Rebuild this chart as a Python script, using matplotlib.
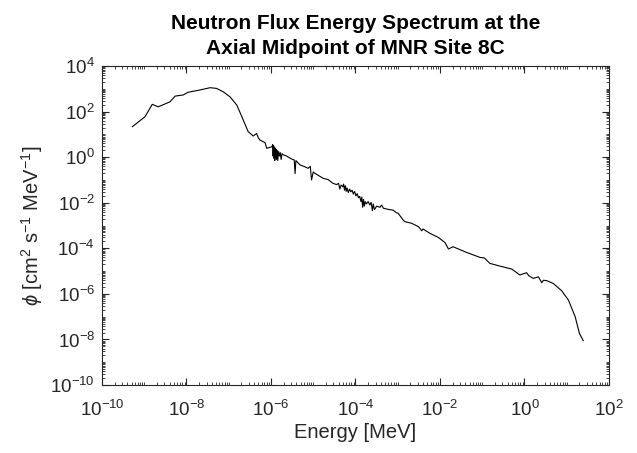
import numpy as np
import matplotlib
matplotlib.use('Agg')
import matplotlib.pyplot as plt
from matplotlib.ticker import LogLocator, NullFormatter

# log10 of energy [MeV] and flux
log_energy = [
    -9.28, -8.98, -8.81, -8.67, -8.39, -8.27, -8.08, -7.96, -7.68, -7.44,
    -7.29, -7.13, -6.97, -6.81, -6.69, -6.54, -6.42, -6.34, -6.30, -6.26,
    -6.14, -6.10, -6.03,
    -5.98, -5.96, -5.95, -5.94, -5.93, -5.92, -5.91, -5.90, -5.89, -5.88,
    -5.87, -5.85, -5.84, -5.82, -5.80, -5.78, -5.76, -5.74, -5.70, -5.63,
    -5.51, -5.45, -5.43, -5.41, -5.31, -5.20, -5.12, -5.07, -5.04, -5.00,
    -4.96, -4.86, -4.76, -4.65, -4.53,
    -4.45, -4.40, -4.37, -4.34, -4.30, -4.28, -4.26, -4.24, -4.22, -4.20,
    -4.17, -4.14, -4.11, -4.08, -4.05, -4.02, -3.99, -3.96, -3.93, -3.90,
    -3.87, -3.85, -3.83, -3.81, -3.79, -3.77, -3.74, -3.70, -3.66, -3.63,
    -3.60, -3.58, -3.55, -3.50, -3.42, -3.38, -3.34, -3.20, -3.11, -3.03,
    -2.99, -2.87, -2.83, -2.67, -2.51, -2.43, -2.40, -2.24, -2.04, -1.88,
    -1.80, -1.69, -1.37, -1.09, -1.05, -0.95, -0.82, -0.58, -0.30, -0.11,
    -0.05, 0.05, 0.10, 0.21, 0.33, 0.37, 0.41, 0.45, 0.53, 0.68,
    0.88, 1.04, 1.20, 1.30, 1.39,
]
log_flux = [
    1.34, 1.78, 2.32, 2.21, 2.43, 2.68, 2.73, 2.85, 2.95, 3.05,
    3.02, 2.87, 2.65, 2.29, 1.78, 1.12, 0.93, 1.04, 0.85, 0.75,
    0.64, 0.39, 0.43,
    0.45, 0.55, 0.05, 0.50, -0.05, 0.45, -0.15, 0.40, 0.00, 0.35,
    -0.10, 0.30, -0.15, 0.25, 0.05, 0.20, -0.10, 0.15, 0.10, 0.05,
    -0.08, -0.12, -0.72, -0.15, -0.34, -0.42, -0.49, -0.40, -1.00, -0.65,
    -0.71, -0.82, -0.93, -0.98, -1.15,
    -1.20, -1.15, -1.40, -1.22, -1.30, -1.18, -1.45, -1.25, -1.50, -1.35,
    -1.55, -1.40, -1.52, -1.45, -1.62, -1.50, -1.70, -1.60, -1.78, -1.72,
    -1.95, -1.75, -2.20, -1.85, -2.15, -1.95, -2.05, -1.95, -2.10, -1.98,
    -2.35, -2.05, -2.30, -2.15, -2.20, -2.10, -2.24, -2.30, -2.32, -2.44,
    -2.46, -2.76, -2.83, -2.90, -3.05, -3.23, -3.15, -3.34, -3.52, -3.75,
    -4.03, -3.93, -4.18, -4.37, -4.40, -4.42, -4.66, -4.78, -4.91, -5.17,
    -5.13, -5.07, -5.20, -5.32, -5.25, -5.38, -5.51, -5.40, -5.42, -5.54,
    -5.86, -6.27, -7.00, -7.73, -8.05,
]
x_ticks = [1e-10, 1e-8, 1e-6, 1e-4, 1e-2, 1e0, 1e2]
y_ticks = [1e-10, 1e-8, 1e-6, 1e-4, 1e-2, 1e0, 1e2, 1e4]

plt.rcParams['font.family'] = ['Liberation Sans', 'DejaVu Sans']
plt.rcParams['mathtext.fontset'] = 'custom'
plt.rcParams['mathtext.rm'] = 'Liberation Sans'
plt.rcParams['mathtext.it'] = 'Liberation Sans:italic'
plt.rcParams['axes.unicode_minus'] = False

energy = 10.0 ** np.array(log_energy)
flux = 10.0 ** np.array(log_flux)

fig = plt.figure(figsize=(6.37, 4.53), dpi=100)
ax = fig.add_axes([0.1601, 0.150, 0.7959, 0.7042])
ax.plot(energy, flux, color='black', linewidth=0.8)
ax.set_xscale('log')
ax.set_yscale('log')
ax.set_xlim(1e-10, 1e2)
ax.set_ylim(1e-10, 1e4)
ax.set_xticks(x_ticks)
ax.set_yticks(y_ticks)
ax.xaxis.set_minor_locator(LogLocator(base=10, subs=np.arange(1, 10), numticks=200))
ax.yaxis.set_minor_locator(LogLocator(base=10, subs=np.arange(1, 10), numticks=200))
ax.xaxis.set_minor_formatter(NullFormatter())
ax.yaxis.set_minor_formatter(NullFormatter())

dark = '#262626'
for s in ax.spines.values():
    s.set_color(dark)
    s.set_linewidth(0.8)
ax.tick_params(which='both', direction='in', top=True, right=True,
               colors=dark, labelcolor=dark)
ax.tick_params(which='major', length=5, width=0.8, labelsize=13.5)
ax.tick_params(axis='x', which='major', pad=11)
ax.tick_params(axis='y', which='major', pad=5)
ax.tick_params(which='minor', length=2.5, width=0.6)

ax.set_xlabel('Energy [MeV]', fontsize=14.5, color=dark, labelpad=2)
ax.set_ylabel(r'$\phi$ [cm$^2$ s$^{-1}$ MeV$^{-1}$]', fontsize=14.5, color=dark)
ax.set_title('Neutron Flux Energy Spectrum at the\nAxial Midpoint of MNR Site 8C',
             fontsize=15, fontweight='bold', pad=9, linespacing=1.4)

plt.savefig('out.png', dpi=100)
